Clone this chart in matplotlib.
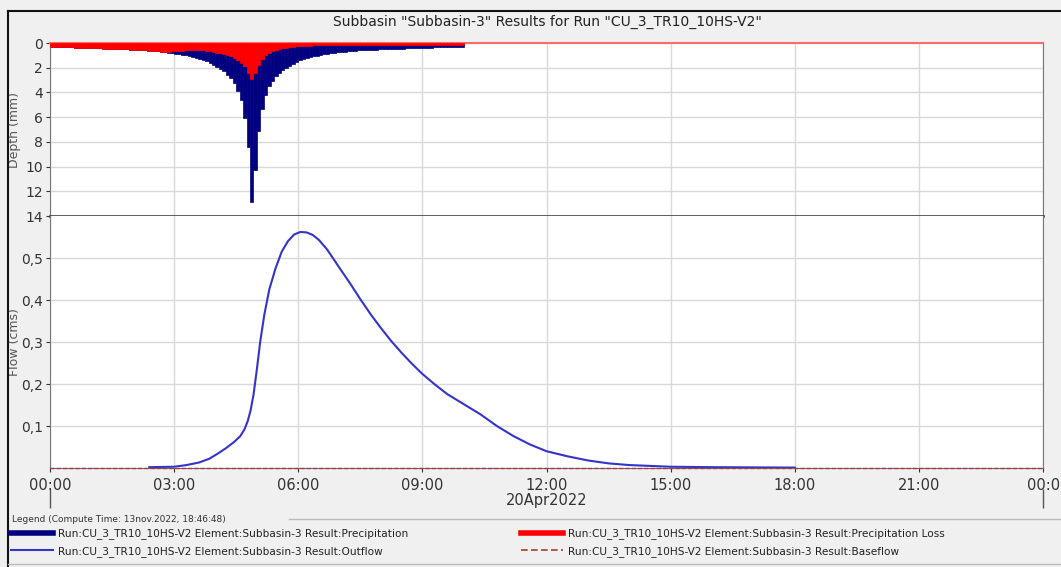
import numpy as np
import matplotlib
matplotlib.use("Agg")
import matplotlib.pyplot as plt
from matplotlib.lines import Line2D
from matplotlib.ticker import FuncFormatter
import matplotlib.transforms as mtransforms

plt.rcParams['font.family'] = ['DejaVu Sans']

# precipitation and loss depth (mm), 5 minute blocks from 00:00
interval_min = 5
precip = [0.32, 0.33, 0.34, 0.34, 0.35, 0.36, 0.36, 0.37, 0.38, 0.39,
          0.40, 0.41, 0.42, 0.43, 0.44, 0.45, 0.46, 0.47, 0.48, 0.49,
          0.50, 0.51, 0.52, 0.54, 0.55, 0.56, 0.58, 0.60, 0.61, 0.64,
          0.66, 0.68, 0.71, 0.74, 0.77, 0.81, 0.85, 0.89, 0.93, 0.98,
          1.04, 1.10, 1.18, 1.26, 1.36, 1.47, 1.60, 1.74, 1.90, 2.07,
          2.28, 2.55, 2.85, 3.25, 3.85, 4.60, 6.10, 8.40, 12.90, 10.30,
          7.10, 5.30, 4.20, 3.50, 3.05, 2.70, 2.40, 2.17, 1.98, 1.82,
          1.67, 1.53, 1.41, 1.31, 1.22, 1.14, 1.07, 1.01, 0.95, 0.91,
          0.87, 0.83, 0.79, 0.75, 0.72, 0.70, 0.67, 0.65, 0.62, 0.60,
          0.59, 0.57, 0.56, 0.54, 0.53, 0.52, 0.51, 0.50, 0.49, 0.48,
          0.47, 0.46, 0.45, 0.44, 0.43, 0.42, 0.41, 0.40, 0.39, 0.38,
          0.37, 0.36, 0.35, 0.35, 0.34, 0.33, 0.33, 0.32, 0.31, 0.30]
loss = [0.32, 0.33, 0.34, 0.34, 0.35, 0.36, 0.36, 0.37, 0.38, 0.39,
        0.40, 0.41, 0.42, 0.43, 0.44, 0.45, 0.46, 0.47, 0.48, 0.49,
        0.50, 0.51, 0.52, 0.54, 0.55, 0.56, 0.58, 0.60, 0.61, 0.64,
        0.66, 0.68, 0.70, 0.70, 0.70, 0.68, 0.66, 0.63, 0.61, 0.59,
        0.58, 0.57, 0.57, 0.58, 0.60, 0.63, 0.67, 0.72, 0.78, 0.84,
        0.90, 0.98, 1.07, 1.20, 1.38, 1.60, 1.85, 2.40, 2.95, 2.40,
        1.80, 1.30, 1.00, 0.80, 0.68, 0.58, 0.50, 0.44, 0.39, 0.35,
        0.31, 0.28, 0.25, 0.23, 0.21, 0.20, 0.19, 0.19, 0.18, 0.18,
        0.18, 0.17, 0.17, 0.17, 0.16, 0.16, 0.16, 0.16, 0.15, 0.15,
        0.15, 0.15, 0.15, 0.14, 0.14, 0.14, 0.14, 0.14, 0.14, 0.13,
        0.13, 0.13, 0.13, 0.13, 0.13, 0.13, 0.13, 0.12, 0.12, 0.12,
        0.12, 0.12, 0.12, 0.12, 0.12, 0.12, 0.12, 0.12, 0.12, 0.12]

# outflow hydrograph (hours, cms)
flow_hours = [2.4, 3.0, 3.3, 3.6, 3.85, 4.05, 4.25, 4.45, 4.6, 4.7, 4.78,
              4.85, 4.92, 5.0, 5.08, 5.18, 5.3, 5.45, 5.6, 5.75, 5.9, 6.05,
              6.2, 6.35, 6.5, 6.7, 7.0, 7.25, 7.5, 7.75, 8.0, 8.25, 8.5,
              8.75, 9.0, 9.3, 9.6, 10.0, 10.4, 10.8, 11.2, 11.6, 12.0, 12.5,
              13.0, 13.5, 14.0, 14.5, 15.0, 16.0, 17.0, 18.0]
outflow = [0.002, 0.003, 0.007, 0.013, 0.022, 0.034, 0.047, 0.062, 0.076, 0.092, 0.112,
           0.138, 0.175, 0.235, 0.3, 0.365, 0.425, 0.475, 0.515, 0.54, 0.556, 0.562,
           0.561, 0.555, 0.543, 0.52, 0.476, 0.44, 0.402, 0.366, 0.333, 0.302, 0.274,
           0.248, 0.224, 0.199, 0.176, 0.152, 0.128, 0.1, 0.076, 0.056, 0.04, 0.028,
           0.018, 0.011, 0.007, 0.005, 0.003, 0.002, 0.0015, 0.001]
base_hours = [0, 24]
baseflow = [0.0, 0.0]

hour_ticks = [0, 3, 6, 9, 12, 15, 18, 21, 24]
hour_labels = ["00:00", "03:00", "06:00", "09:00", "12:00", "15:00", "18:00", "21:00", "00:0"]

names = ["Run:CU_3_TR10_10HS-V2 Element:Subbasin-3 Result:Precipitation",
         "Run:CU_3_TR10_10HS-V2 Element:Subbasin-3 Result:Outflow",
         "Run:CU_3_TR10_10HS-V2 Element:Subbasin-3 Result:Precipitation Loss",
         "Run:CU_3_TR10_10HS-V2 Element:Subbasin-3 Result:Baseflow"]

c_precip = '#000080'
c_loss = '#ff0000'
c_flow = '#3434cc'
c_base = '#a0402d'
grid_c = '#d9d9d9'

dt = interval_min / 60.0
t = np.arange(len(precip)) * dt

fig = plt.figure(figsize=(10.61, 5.67), dpi=100, facecolor='#f0f0f0')
ax_p = fig.add_axes([0.0471, 0.6190, 0.936, 0.3051])
ax_q = fig.add_axes([0.0471, 0.1746, 0.936, 0.4444], sharex=ax_p)

# depth panel
ax_p.bar(t, precip, width=dt, align='edge', color=c_precip, edgecolor=c_precip, linewidth=0.5, zorder=2)
ax_p.bar(t, loss, width=dt, align='edge', color=c_loss, edgecolor=c_loss, linewidth=0.5, zorder=3)
ax_p.set_ylim(14, 0)
ax_p.set_yticks(range(0, 15, 2))
ax_p.set_ylabel("Depth (mm)", fontsize=9, color='#555')
ax_p.yaxis.set_label_coords(-0.029, 0.5)
ax_p.tick_params(axis='x', labelbottom=False, length=0)

# flow panel
ax_q.plot(flow_hours, outflow, color=c_flow, lw=1.5, zorder=3)
ax_q.plot(base_hours, baseflow, color=c_base, lw=1.0, ls=(0, (3, 1.5)), zorder=4, clip_on=False)
ax_q.set_ylim(0, 0.6)
ax_q.set_yticks([0.1, 0.2, 0.3, 0.4, 0.5])
ax_q.yaxis.set_major_formatter(FuncFormatter(lambda v, p: ("%.1f" % v).replace('.', ',')))
ax_q.set_ylabel("Flow (cms)", fontsize=9, color='#555')
ax_q.yaxis.set_label_coords(-0.029, 0.5)
ax_q.set_xlim(0, 24)
ax_q.set_xticks(hour_ticks)
ax_q.set_xticklabels(hour_labels)
ax_q.tick_params(axis='x', labelsize=10.5, length=3, colors='#333', pad=4)

for ax in (ax_p, ax_q):
    ax.set_facecolor('white')
    ax.grid(True, color=grid_c, lw=1)
    ax.set_axisbelow(True)
    ax.tick_params(axis='y', labelsize=10, length=3, colors='#333', pad=2)
    for s in ('left', 'right'):
        ax.spines[s].set_color('#777')
ax_p.spines['top'].set_color('#ff6a6a')
ax_p.spines['top'].set_linewidth(1.5)
ax_p.spines['bottom'].set_color('#333')
ax_p.spines['bottom'].set_linewidth(1.8)
ax_q.spines['top'].set_visible(False)
ax_q.spines['bottom'].set_color('#7a5a9a')

# date row with long ticks at start and end of day
sec = ax_q.secondary_xaxis(-0.083)
sec.set_xticks([0, 24])
sec.tick_params(length=14, width=1, colors='#555', labelbottom=False)
sec.spines['bottom'].set_visible(False)
tr = mtransforms.blended_transform_factory(ax_q.transData, ax_q.transAxes)
ax_q.text(12, -0.13, "20Apr2022", transform=tr, ha='center', va='center', fontsize=10.5, color='#333')

fig.text(0.5155, 0.962, 'Subbasin "Subbasin-3" Results for Run "CU_3_TR10_10HS-V2"',
         ha='center', va='center', fontsize=10, color='#222')

# window frame
fig.add_artist(Line2D([0.0075, 1.0], [0.981, 0.981], color='#111', lw=1.5))
fig.add_artist(Line2D([0.0075, 0.0075], [0.0, 0.981], color='#111', lw=1.5))

# legend area
fig.text(0.011, 0.083, "Legend (Compute Time: 13nov.2022, 18:46:48)", fontsize=6.5, color='#333', va='center')
fig.add_artist(Line2D([0.272, 1.0], [0.085, 0.085], color='#bbbbbb', lw=1))
fig.add_artist(Line2D([0.0075, 1.0], [0.005, 0.005], color='#bbbbbb', lw=1))

h_precip = Line2D([], [], color=c_precip, lw=4)
h_flow = Line2D([], [], color=c_flow, lw=1.5)
h_loss = Line2D([], [], color=c_loss, lw=4)
h_base = Line2D([], [], color=c_base, lw=1.2, ls=(0, (4, 2)))

kw = dict(loc='upper left', frameon=False, fontsize=7.6, handlelength=4.0,
          handletextpad=0.45, labelspacing=0.6, borderaxespad=0, borderpad=0)
leg1 = fig.legend([h_precip, h_flow], names[:2], bbox_to_anchor=(0.010, 0.068), **kw)
leg2 = fig.legend([h_loss, h_base], names[2:], bbox_to_anchor=(0.491, 0.068), **kw)
for lg in (leg1, leg2):
    for tx in lg.get_texts():
        tx.set_color('#222')

fig.savefig("out.png", dpi=100, facecolor=fig.get_facecolor())
